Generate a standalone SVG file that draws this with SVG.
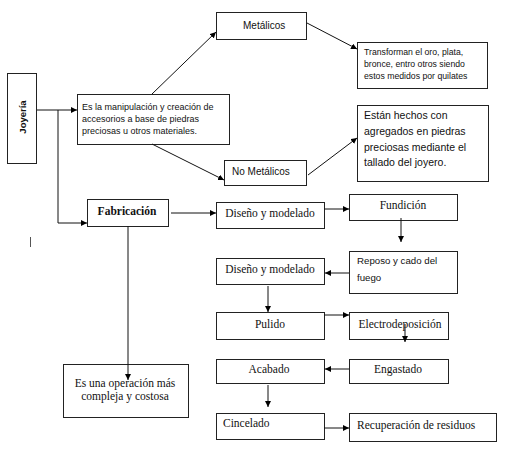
<svg xmlns="http://www.w3.org/2000/svg" width="518" height="450" viewBox="0 0 518 450">
<defs>
<marker id="ah" viewBox="0 0 10 10" refX="10" refY="5" markerWidth="6" markerHeight="6" orient="auto" markerUnits="userSpaceOnUse">
<path d="M0,0 L10,5 L0,10 z" fill="#000"/>
</marker>
<style>
.b{fill:#fff;stroke:#222;stroke-width:1}
.s{font-family:"Liberation Sans",Arial,sans-serif;fill:#111}
.t{font-family:"Liberation Serif","Times New Roman",serif;font-size:11.5px;fill:#111}
.c{fill:none;stroke:#111;stroke-width:1;marker-end:url(#ah)}
</style>
</defs>
<rect width="518" height="450" fill="#fff"/>
<g id="joyeria">
<rect class="b" x="7.5" y="73.5" width="29" height="90"/>
<text class="s" font-size="9.5" font-weight="bold" text-anchor="middle" transform="translate(25.5,117) rotate(-90)">Joyería</text>
</g>
<g id="definicion">
<rect class="b" x="77.5" y="94.5" width="152" height="50"/>
<text class="s" font-size="9"><tspan x="82" y="110">Es la manipulación y creación de</tspan><tspan x="82" y="122">accesorios a base de piedras</tspan><tspan x="82" y="134">preciosas u otros materiales.</tspan></text>
</g>
<g id="metalicos">
<rect class="b" x="216.5" y="12.5" width="90" height="27"/>
<text class="s" font-size="10" x="243" y="29">Metálicos</text>
</g>
<g id="no-metalicos">
<rect class="b" x="224.5" y="160.5" width="82" height="25"/>
<text class="s" font-size="10" x="232" y="175">No Metálicos</text>
</g>
<g id="transforman">
<rect class="b" x="357.5" y="42.5" width="130" height="46"/>
<text class="s" font-size="8.7"><tspan x="364" y="55">Transforman el oro, plata,</tspan><tspan x="364" y="67">bronce, entro otros siendo</tspan><tspan x="364" y="79">estos medidos por quilates</tspan></text>
</g>
<g id="estan">
<rect class="b" x="357.5" y="105.5" width="131" height="76"/>
<text class="s" font-size="10.5"><tspan x="364" y="119">Están hechos con</tspan><tspan x="364" y="135">agregados en piedras</tspan><tspan x="364" y="151">preciosas mediante el</tspan><tspan x="364" y="166">tallado del joyero.</tspan></text>
</g>
<g id="fabricacion">
<rect class="b" x="87.5" y="199.5" width="81" height="27"/>
<text class="t" font-weight="bold" x="127" y="215" text-anchor="middle">Fabricación</text>
</g>
<line x1="30.5" y1="237" x2="30.5" y2="247" stroke="#555" stroke-width="1"/>
<g id="diseno1">
<rect class="b" x="216.5" y="202.5" width="108" height="26"/>
<text class="t" x="270" y="217" text-anchor="middle">Diseño y modelado</text>
</g>
<g id="fundicion">
<rect class="b" x="349.5" y="194.5" width="108" height="26"/>
<text class="t" x="403" y="209" text-anchor="middle">Fundición</text>
</g>
<g id="reposo">
<rect class="b" x="349.5" y="251.5" width="108" height="42"/>
<text class="s" font-size="9.7"><tspan x="357" y="264">Reposo y cado del</tspan><tspan x="357" y="281">fuego</tspan></text>
</g>
<g id="diseno2">
<rect class="b" x="216.5" y="258.5" width="108" height="26"/>
<text class="t" x="270" y="273" text-anchor="middle">Diseño y modelado</text>
</g>
<g id="pulido">
<rect class="b" x="216.5" y="312.5" width="108" height="27"/>
<text class="t" x="270" y="328" text-anchor="middle">Pulido</text>
</g>
<g id="electrodeposicion">
<rect class="b" x="349.5" y="312.5" width="99" height="27"/>
<text class="t" x="400" y="328" text-anchor="middle">Electrodeposición</text>
</g>
<g id="engastado">
<rect class="b" x="349.5" y="359.5" width="99" height="24"/>
<text class="t" x="398" y="373" text-anchor="middle">Engastado</text>
</g>
<g id="acabado">
<rect class="b" x="216.5" y="359.5" width="108" height="24"/>
<text class="t" x="269" y="373" text-anchor="middle">Acabado</text>
</g>
<g id="cincelado">
<rect class="b" x="216.5" y="413.5" width="108" height="26"/>
<text class="t" x="223" y="427">Cincelado</text>
</g>
<g id="recuperacion">
<rect class="b" x="349.5" y="413.5" width="147" height="28"/>
<text class="t" x="357" y="429">Recuperación de residuos</text>
</g>
<g id="operacion">
<rect class="b" x="63.5" y="364.5" width="125" height="53"/>
<text class="t" text-anchor="middle"><tspan x="125" y="387">Es una operación más</tspan><tspan x="125" y="400">compleja y costosa</tspan></text>
</g>
<g id="connectors">
<path class="c" d="M37,110 H77"/>
<path class="c" d="M58,110 V223 H87"/>
<path class="c" d="M152,94 L216,32"/>
<path class="c" d="M152,144 L224,180"/>
<path class="c" d="M307,23 L357,49"/>
<path class="c" d="M308,175 L357,138"/>
<path class="c" d="M171,213 H216"/>
<path class="c" d="M324,209 H349"/>
<path class="c" d="M401,218 V242"/>
<path class="c" d="M349,273 H325"/>
<path class="c" d="M268,286 V312"/>
<path class="c" d="M324,315 H349"/>
<path class="c" d="M405,324 V342"/>
<path class="c" d="M349,369 H325"/>
<path class="c" d="M268,385 V407"/>
<path class="c" d="M324,428 H349"/>
<path class="c" d="M128,226 V380"/>
</g>
</svg>
